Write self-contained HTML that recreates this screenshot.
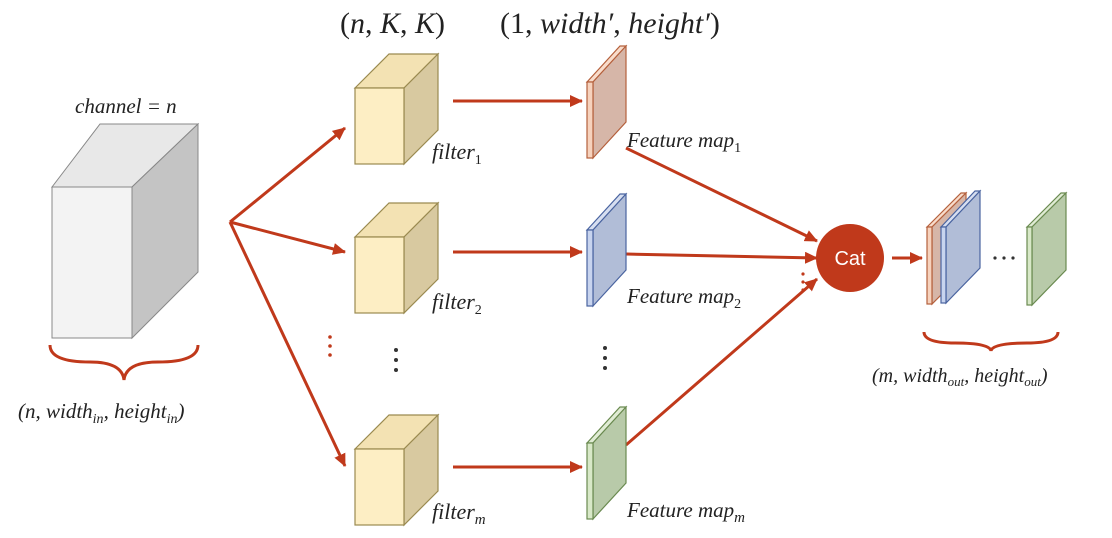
<!DOCTYPE html>
<html><head><style>body{margin:0;background:#fff}svg{display:block}text{font-family:"Liberation Serif",serif;font-style:italic;fill:#222}</style></head><body>
<svg width="1112" height="538" viewBox="0 0 1112 538" xmlns="http://www.w3.org/2000/svg">
<defs><marker id="a" markerWidth="14" markerHeight="12" refX="12" refY="6" orient="auto" markerUnits="userSpaceOnUse"><path d="M0,0 L13,6 L0,12 Z" fill="#c0391b"/></marker>
<g id="cube"><path d="M0,0 L34,-34 L83,-34 L49,0 Z" fill="#f3e2b3" stroke="#9a8a50" stroke-width="1.2"/><path d="M49,0 L83,-34 L83,42 L49,76 Z" fill="#d8c9a0" stroke="#9a8a50" stroke-width="1.2"/><rect x="0" y="0" width="49" height="76" fill="#fdeec4" stroke="#9a8a50" stroke-width="1.2"/></g>
</defs>
<text x="340" y="33" font-size="30" style="font-style:normal">(<tspan font-style="italic">n</tspan>, <tspan font-style="italic">K</tspan>, <tspan font-style="italic">K</tspan>)</text>
<text x="500" y="33" font-size="30" style="font-style:normal">(1, <tspan font-style="italic">width′</tspan>, <tspan font-style="italic">height′</tspan>)</text>
<path d="M52,187 L100,124 L198,124 L132,187 Z" fill="#e8e8e8" stroke="#888"/>
<path d="M132,187 L198,124 L198,272 L132,338 Z" fill="#c4c4c4" stroke="#888"/>
<rect x="52" y="187" width="80" height="151" fill="#f3f3f3" stroke="#888"/>
<text x="75" y="113" font-size="21">channel = n</text>
<path d="M50,345 Q50,362 90,362 Q122,362 124,380 Q126,362 158,362 Q198,362 198,345" fill="none" stroke="#c0391b" stroke-width="3"/>
<text x="18" y="418" font-size="21">(n, width<tspan font-size="14" dy="5">in</tspan><tspan dy="-5">, height</tspan><tspan font-size="14" dy="5">in</tspan><tspan dy="-5">)</tspan></text>
<g stroke="#c0391b" stroke-width="3" fill="none" marker-end="url(#a)">
<line x1="230" y1="222" x2="345" y2="128"/>
<line x1="230" y1="222" x2="345" y2="252"/>
<line x1="230" y1="222" x2="345" y2="466"/>
<line x1="453" y1="101" x2="582" y2="101"/>
<line x1="453" y1="252" x2="582" y2="252"/>
<line x1="453" y1="467" x2="582" y2="467"/>
<line x1="626" y1="148" x2="817" y2="241"/>
<line x1="626" y1="254" x2="817" y2="258"/>
<line x1="626" y1="445" x2="817" y2="279"/>
<line x1="892" y1="258" x2="922" y2="258"/>
</g>
<use href="#cube" x="355" y="88"/>
<use href="#cube" x="355" y="237"/>
<use href="#cube" x="355" y="449"/>
<text x="432" y="159" font-size="22">filter<tspan font-size="14" dy="5" style="font-style:normal">1</tspan></text>
<text x="432" y="309" font-size="22">filter<tspan font-size="14" dy="5" style="font-style:normal">2</tspan></text>
<text x="432" y="519" font-size="22">filter<tspan font-size="15" dy="5">m</tspan></text>
<g stroke="#b5603c" stroke-width="1.2"><path d="M587,82 L620,46 L626,46 L593,82 Z" fill="#f8dccb"/><path d="M593,82 L626,46 L626,122 L593,158 Z" fill="#d6b6a8"/><rect x="587" y="82" width="6" height="76" fill="#f6d2bd"/></g>
<g stroke="#4a64a0" stroke-width="1.2"><path d="M587,230 L620,194 L626,194 L593,230 Z" fill="#d6def0"/><path d="M593,230 L626,194 L626,270 L593,306 Z" fill="#b1bdd7"/><rect x="587" y="230" width="6" height="76" fill="#c8d4ee"/></g>
<g stroke="#6a8a50" stroke-width="1.2"><path d="M587,443 L620,407 L626,407 L593,443 Z" fill="#e0ecd4"/><path d="M593,443 L626,407 L626,483 L593,519 Z" fill="#b8caa9"/><rect x="587" y="443" width="6" height="76" fill="#d8e8c8"/></g>
<text x="627" y="147" font-size="21">Feature map<tspan font-size="14" dy="5" style="font-style:normal">1</tspan></text>
<text x="627" y="303" font-size="21">Feature map<tspan font-size="14" dy="5" style="font-style:normal">2</tspan></text>
<text x="627" y="517" font-size="21">Feature map<tspan font-size="15" dy="5">m</tspan></text>
<g fill="#c0391b"><circle cx="330" cy="337" r="1.8"/><circle cx="330" cy="346" r="1.8"/><circle cx="330" cy="355" r="1.8"/><circle cx="803" cy="274" r="1.6"/><circle cx="803" cy="282" r="1.6"/><circle cx="803" cy="290" r="1.6"/></g>
<g fill="#333"><circle cx="396" cy="350" r="2"/><circle cx="396" cy="360" r="2"/><circle cx="396" cy="370" r="2"/><circle cx="605" cy="348" r="2"/><circle cx="605" cy="358" r="2"/><circle cx="605" cy="368" r="2"/><circle cx="995" cy="258" r="1.6"/><circle cx="1004" cy="258" r="1.6"/><circle cx="1013" cy="258" r="1.6"/></g>
<circle cx="850" cy="258" r="34" fill="#c0391b"/>
<text x="850" y="265" font-size="20" text-anchor="middle" style="font-style:normal;font-family:'Liberation Sans',sans-serif;fill:#fff">Cat</text>
<g stroke="#b5603c" stroke-width="1.2"><path d="M927,227 L961,193 L966,193 L932,227 Z" fill="#f8dccb"/><path d="M932,227 L966,193 L966,270 L932,304 Z" fill="#d6b6a8"/><rect x="927" y="227" width="5" height="77" fill="#f6d2bd"/></g>
<g stroke="#4a64a0" stroke-width="1.2"><path d="M941,227 L975,191 L980,191 L946,227 Z" fill="#d6def0"/><path d="M946,227 L980,191 L980,268 L946,303 Z" fill="#b1bdd7"/><rect x="941" y="227" width="5" height="76" fill="#c8d4ee"/></g>
<g stroke="#6a8a50" stroke-width="1.2"><path d="M1027,227 L1061,193 L1066,193 L1032,227 Z" fill="#e0ecd4"/><path d="M1032,227 L1066,193 L1066,270 L1032,305 Z" fill="#b8caa9"/><rect x="1027" y="227" width="5" height="78" fill="#d8e8c8"/></g>
<path d="M924,332 Q924,343 955,343 Q990,343 991,351 Q992,343 1027,343 Q1058,343 1058,332" fill="none" stroke="#c0391b" stroke-width="3"/>
<text x="872" y="382" font-size="20">(m, width<tspan font-size="13" dy="4">out</tspan><tspan dy="-4">, height</tspan><tspan font-size="13" dy="4">out</tspan><tspan dy="-4">)</tspan></text>
</svg>
</body></html>
